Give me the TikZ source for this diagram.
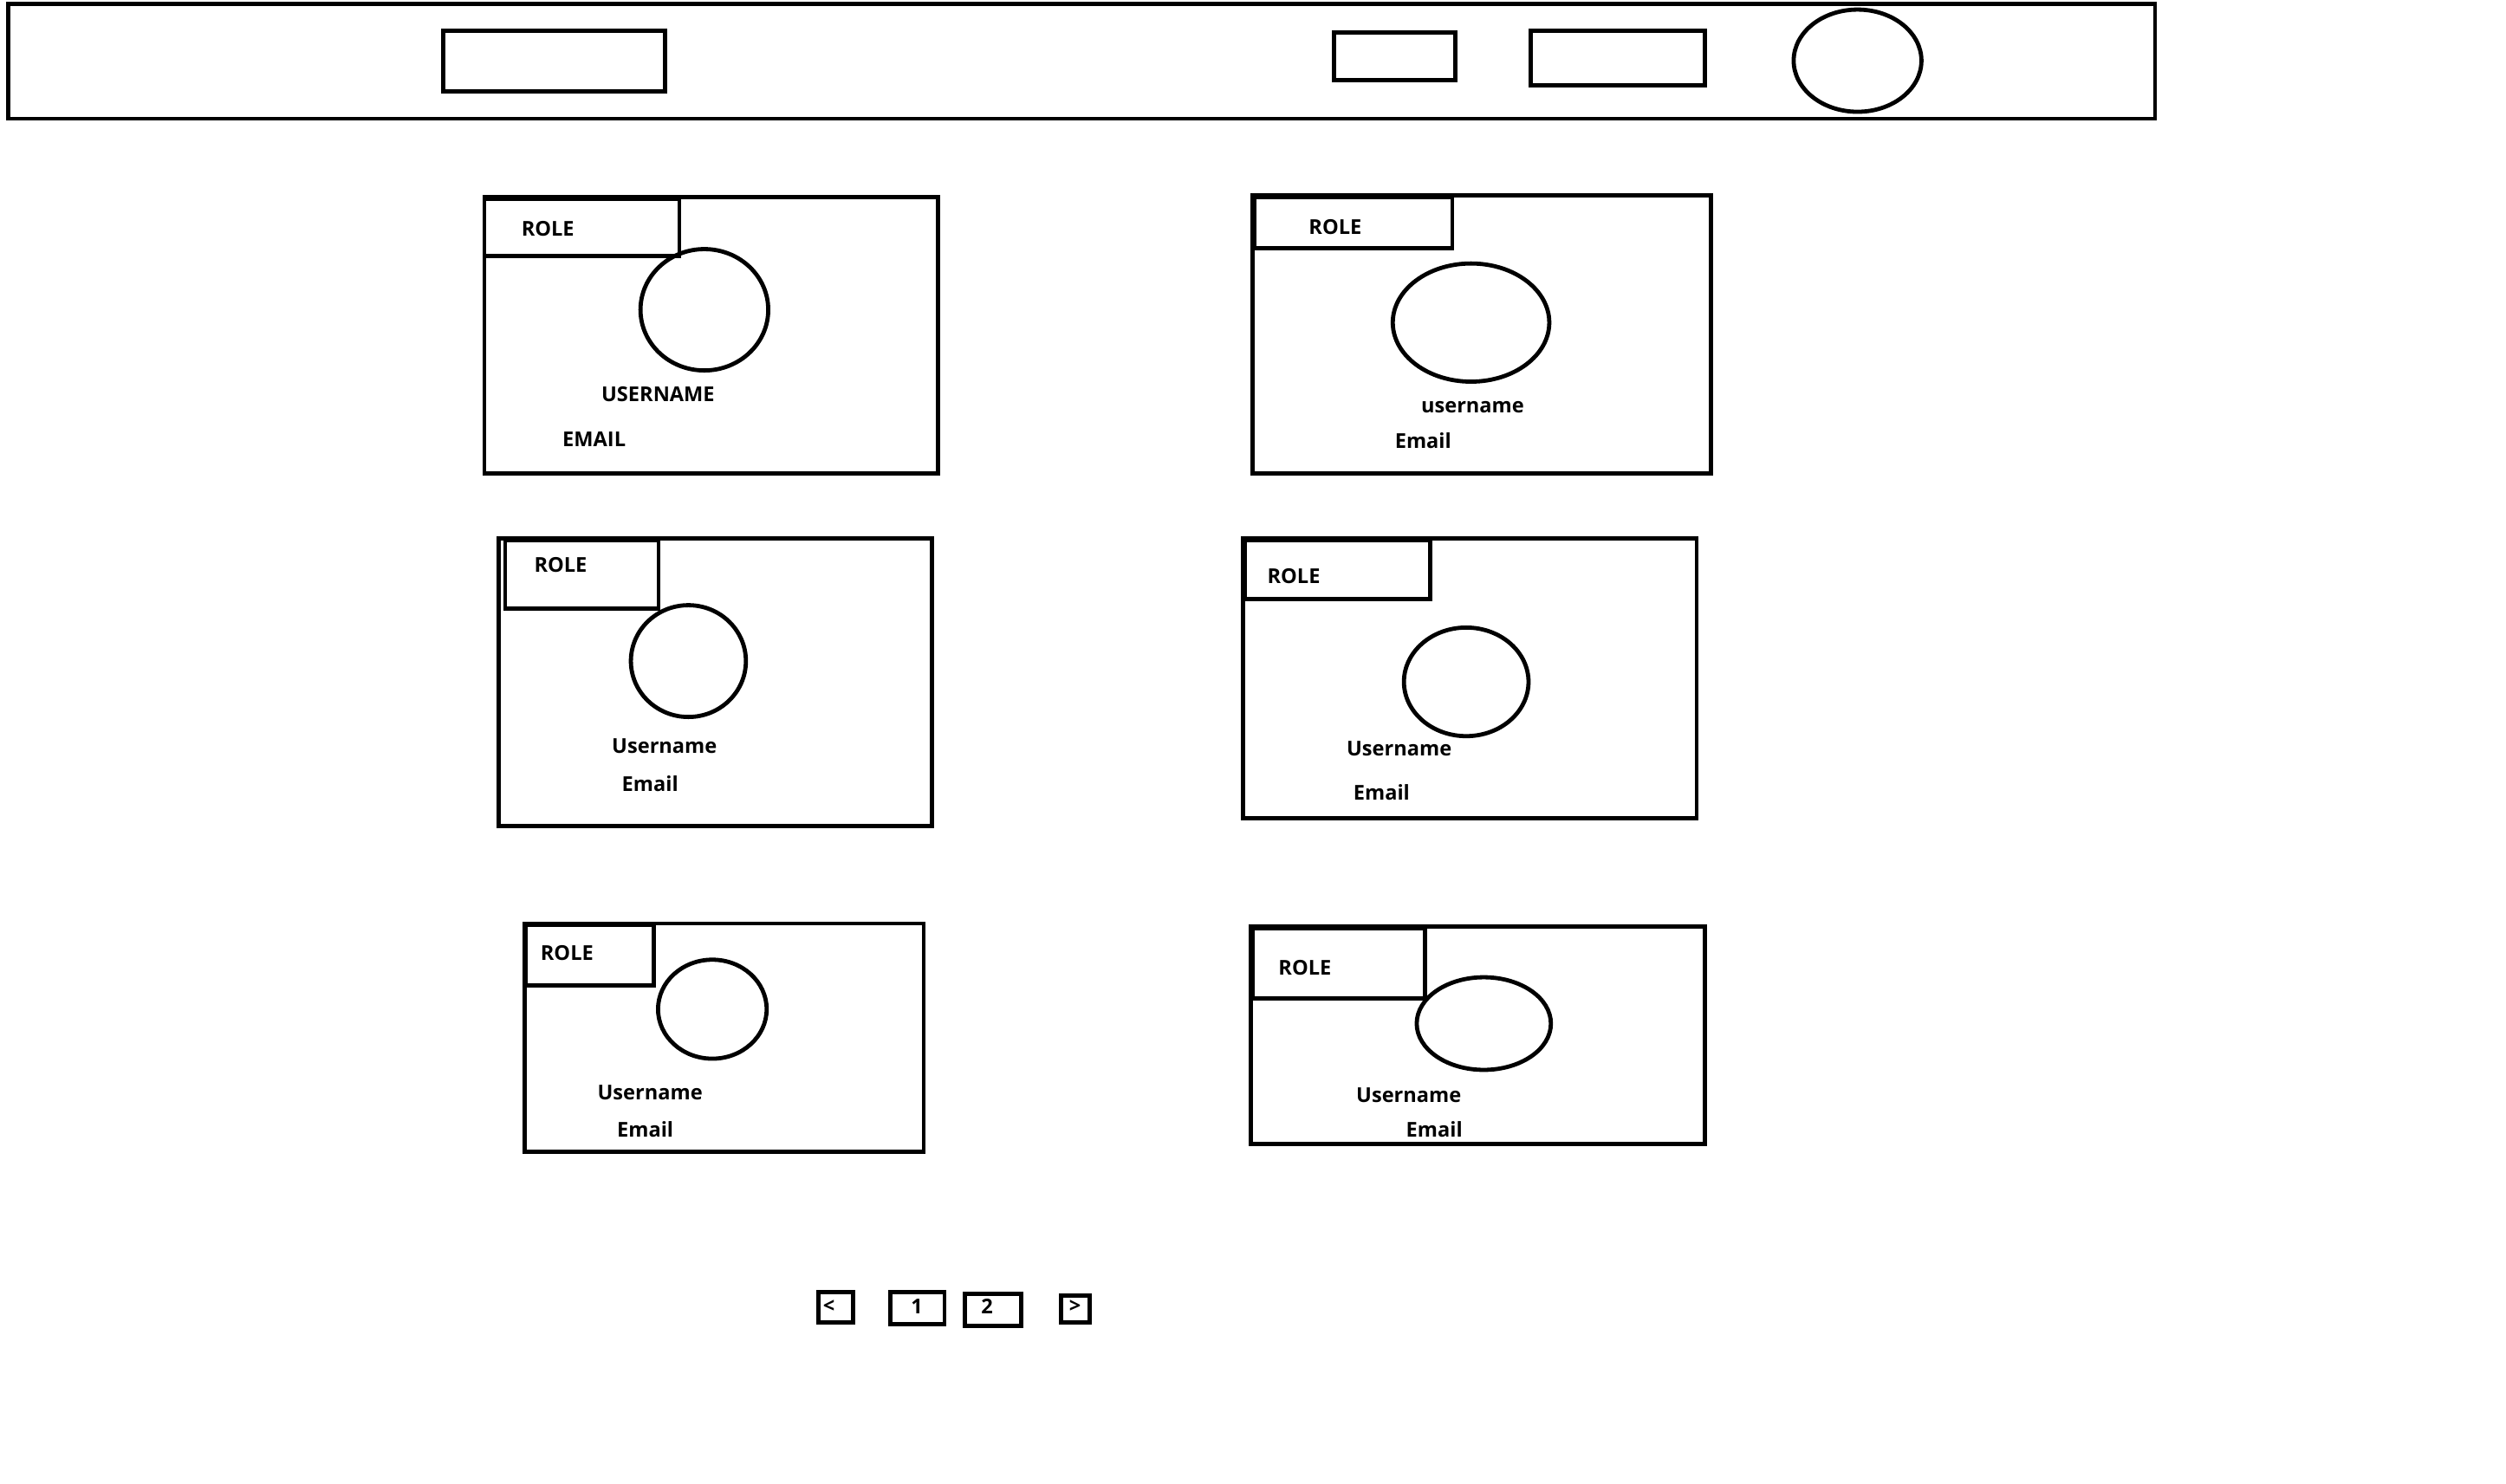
\documentclass[tikz,border=0pt]{standalone}
\usepackage{fontspec}
\setmainfont{Open Sans}
\usetikzlibrary{shapes.geometric}
\tikzset{
  frame/.style={draw=black, line width=2.6pt, inner sep=0pt, anchor=north west},
  oval/.style={draw=black, line width=2.6pt, ellipse, inner sep=0pt},
  lbl/.style={font=\fontsize{12.8}{14}\selectfont\bfseries, inner sep=0pt},
}
\newcommand{\rbox}[5]{\node[frame, minimum width=#4-#2, minimum height=#5-#3] (#1) at (#2,#3) {};}
\begin{document}
\begin{tikzpicture}[x=1pt,y=-1pt]
\useasboundingbox (0,0) rectangle (1569,929.3);
% top bar
\rbox{bar}{4}{1}{1348}{73}
\rbox{search}{276}{18}{415}{56}
\rbox{btnA}{834}{19}{910}{49}
\rbox{btnB}{957}{18}{1066}{52}
\node[oval, minimum width=80, minimum height=64] (avatar) at (1163,38) {};
% card 1
\rbox{c1}{302}{122}{586}{295}
\rbox{r1}{302}{123}{424}{159}
\node[lbl] (r1t) at (343,143) {ROLE};
\node[oval, minimum width=80, minimum height=76] (a1) at (441,194) {};
\node[lbl] (u1) at (412,247) {USERNAME};
\node[lbl] (e1) at (372,275) {EMAIL};
% card 2
\rbox{c2}{783}{121}{1070}{295}
\rbox{r2}{784}{122}{908}{154}
\node[lbl] (r2t) at (836,142) {ROLE};
\node[oval, minimum width=98, minimum height=74] (a2) at (921,202) {};
\node[lbl] (u2) at (922,255) {username};
\node[lbl] (e2) at (891,276) {Email};
% card 3
\rbox{c3}{311}{336}{582}{516}
\rbox{r3}{315}{337}{411}{380}
\node[lbl] (r3t) at (351,354) {ROLE};
\node[oval, minimum width=72, minimum height=70] (a3) at (431,414) {};
\node[lbl] (u3) at (416,467) {Username};
\node[lbl] (e3) at (407,491) {Email};
% card 4
\rbox{c4}{777}{336}{1061}{511}
\rbox{r4}{778}{337}{894}{374}
\node[lbl] (r4t) at (810,361) {ROLE};
\node[oval, minimum width=78, minimum height=68] (a4) at (918,427) {};
\node[lbl] (u4) at (876,469) {Username};
\node[lbl] (e4) at (865,496) {Email};
% card 5
\rbox{c5}{327}{577}{577}{720}
\rbox{r5}{328}{578}{408}{616}
\node[lbl] (r5t) at (355,597) {ROLE};
\node[oval, minimum width=68, minimum height=62] (a5) at (446,632) {};
\node[lbl] (u5) at (407,684) {Username};
\node[lbl] (e5) at (404,707) {Email};
% card 6
\rbox{c6}{782}{579}{1066}{715}
\rbox{r6}{783}{580}{891}{624}
\node[lbl] (r6t) at (817,606) {ROLE};
\node[oval, minimum width=84, minimum height=58] (a6) at (929,641) {};
\node[lbl] (u6) at (882,686) {Username};
\node[lbl] (e6) at (898,707) {Email};
% pagination
\rbox{pprev}{511}{808}{533}{827}
\node[lbl] (pprevt) at (519,818) {<};
\rbox{p1}{556}{808}{590}{828}
\node[lbl] (p1t) at (574,818) {1};
\rbox{p2}{603}{809}{638}{829}
\node[lbl] (p2t) at (618,818) {2};
\rbox{pnext}{663}{810}{681}{827}
\node[lbl] (pnextt) at (673,818) {>};
\end{tikzpicture}
\end{document}
